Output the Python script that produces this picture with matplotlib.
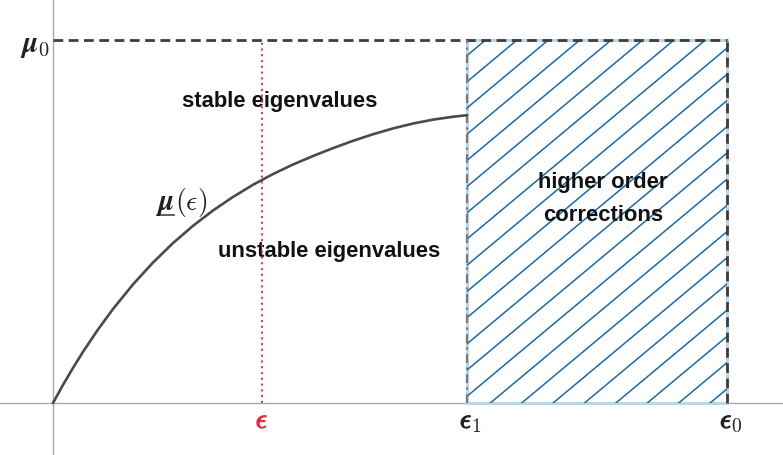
import numpy as np
import matplotlib
matplotlib.use("Agg")
import matplotlib.pyplot as plt
import matplotlib.patheffects as pe
from matplotlib.patches import Rectangle

plt.rcParams['mathtext.fontset'] = 'cm'

# ---- data ----
curve_x = [0.0000, 0.0148, 0.0297, 0.0445, 0.0668, 0.0890, 0.1187, 0.1484, 0.1780, 0.2077,
           0.2374, 0.2671, 0.2967, 0.3264, 0.3561, 0.3858, 0.4154, 0.4451, 0.4748, 0.5045,
           0.5341, 0.5638, 0.5935, 0.6142]
curve_y = [0.0000, 0.0498, 0.0967, 0.1409, 0.2026, 0.2589, 0.3267, 0.3870, 0.4405, 0.4880,
           0.5303, 0.5677, 0.6011, 0.6307, 0.6570, 0.6804, 0.7021, 0.7222, 0.7404, 0.7564,
           0.7699, 0.7806, 0.7886, 0.7928]
eps_mark = 0.310
eps1 = 0.614
eps0 = 1.0
mu0 = 1.0
tick_subscripts = ['', '1', '0']
tick_colors = ['#e8283c', '#222222', '#222222']
region_labels = ['stable eigenvalues', 'unstable eigenvalues', 'higher order\ncorrections']

fig = plt.figure(figsize=(7.83, 4.56), dpi=100)
ax = fig.add_axes([0, 0, 1, 1])
ax.set_xlim(-53 / 674, 730 / 674)
ax.set_ylim(-52 / 363, 404 / 363)
ax.axis('off')

# axes lines
ax.axhline(0, color='#aaaaaa', lw=1.0, zorder=1)
ax.axvline(0, color='#aaaaaa', lw=1.0, zorder=1)

# hatched region
rect = Rectangle((eps1, 0), eps0 - eps1, mu0, facecolor='none',
                 edgecolor='#b9d6ea', lw=2.2, zorder=2)
ax.add_patch(rect)
clip = Rectangle((eps1, 0), eps0 - eps1, mu0, transform=ax.transData, visible=False)
ax.add_patch(clip)
slope = 1.55
step = 0.0722
base = 0.9568
xs = np.array([eps1 - 0.1, eps0 + 0.1])
for k in range(-10, 40):
    y0 = base - step * k
    ln, = ax.plot(xs, y0 + slope * (xs - eps1), color='#1b6aa5', lw=1.1, zorder=3)
    ln.set_clip_path(clip)

# boundary lines
ax.plot([0, eps0], [mu0, mu0], color='#3d3d3d', lw=2.0, dashes=(3.5, 2.0), zorder=4)
ax.plot([eps0, eps0], [0, mu0], color='#3d3d3d', lw=2.0, dashes=(3.5, 2.0), zorder=4)
ax.plot([eps1, eps1], [0, mu0], color='#7a7a7a', lw=1.6, dashes=(4, 2, 1, 2), zorder=4)
ax.plot([eps_mark, eps_mark], [0, mu0], color='#e8283c', lw=1.3, dashes=(1.2, 2.0), zorder=4)

# curve
ax.plot(curve_x, curve_y, color='#4a4a4a', lw=1.9, zorder=5, solid_capstyle='round',
        solid_joinstyle='round')

# labels
lab_kw = dict(ha='center', va='center', fontsize=15.8, fontweight='bold',
              family='Liberation Sans', color='#111111')
ax.text((280 - 53) / 674, (404 - 102) / 363, region_labels[0], **lab_kw)
ax.text((329 - 53) / 674, (404 - 252) / 363, region_labels[1], **lab_kw)
ax.text((603 - 53) / 674, (404 - 199) / 363, region_labels[2], linespacing=1.75, **lab_kw)

# mu(eps) label with underline
ax.text((174 - 53) / 674, (404 - 210) / 363, r'$\boldsymbol{\mu}$', ha='right', va='baseline',
        fontsize=21, color='#222222')
ax.text((175 - 53) / 674, (404 - 210) / 363, r'$(\epsilon)$', ha='left', va='baseline',
        fontsize=20, color='#222222')
ax.plot([(157 - 53) / 674, (174 - 53) / 674], [(404 - 216) / 363] * 2, color='#444444', lw=1.2)

# x tick labels: bold epsilon plus thin subscript
eps_base = (404 - 429) / 363
sub_base = (404 - 432) / 363
for xv, sub, c in zip([eps_mark, eps1, eps0], tick_subscripts, tick_colors):
    stroke = [pe.withStroke(linewidth=0.9, foreground=c)]
    if sub:
        ax.text(xv - 7 / 674, eps_base, r'$\epsilon$', ha='left', va='baseline',
                fontsize=20, color=c, path_effects=stroke)
        ax.text(xv + 4.5 / 674, sub_base, r'$%s$' % sub, ha='left', va='baseline',
                fontsize=14, color=c)
    else:
        ax.text(xv, eps_base, r'$\epsilon$', ha='center', va='baseline', fontsize=20,
                color=c, path_effects=stroke)

# mu0 label
ax.text(-3 / 674, (404 - 52) / 363, r'$\boldsymbol{\mu}_0$', ha='right', va='baseline',
        fontsize=21, color='#222222')

fig.savefig('out.png', dpi=100)
